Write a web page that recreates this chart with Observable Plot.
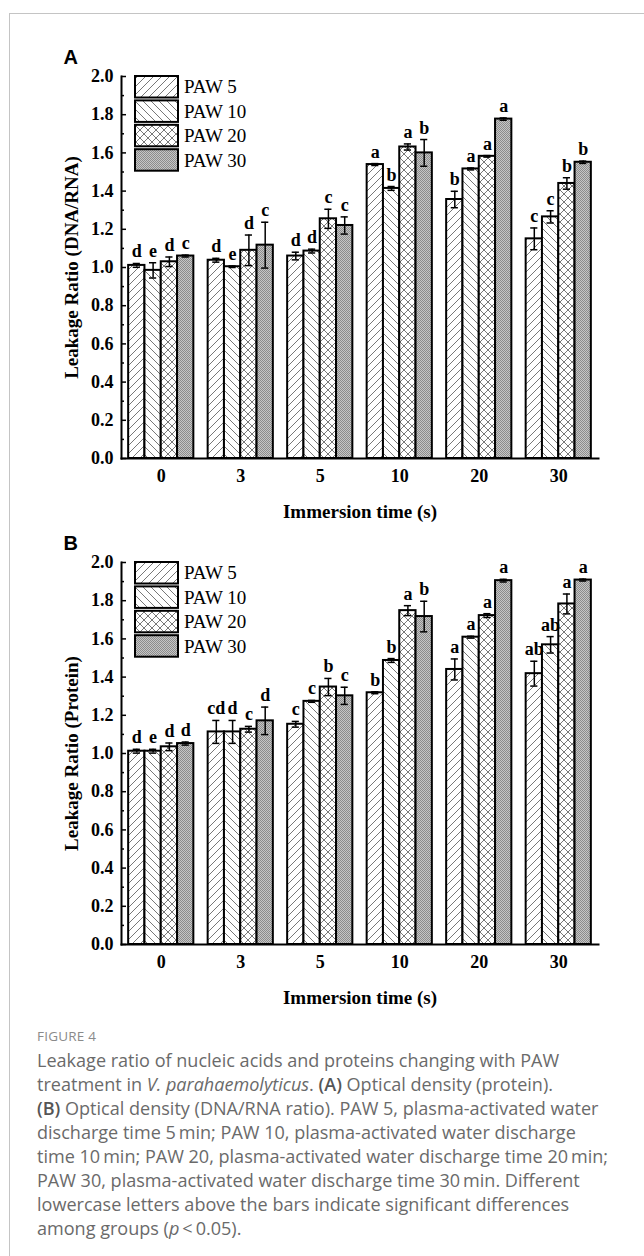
<!DOCTYPE html>
<html>
<head>
<meta charset="utf-8">
<script src="https://cdn.jsdelivr.net/npm/d3@7"></script>
<script src="https://cdn.jsdelivr.net/npm/@observablehq/plot@0.6"></script>
<style>
  html, body { margin: 0; padding: 0; background: #fff; }
  body { width: 644px; height: 1256px; position: relative; overflow: hidden; }
  #card { position: absolute; left: 9px; top: 13px; width: 700px; height: 1300px;
          border-left: 1px solid #c4c4c4; border-top: 1px solid #c4c4c4; }
  .panel { position: absolute; left: 0; }
  #figlabel { position: absolute; left: 37px; top: 1027px; font-family: "Open Sans", sans-serif;
              font-size: 13.5px; color: #8a8a8a; letter-spacing: 0.2px; }
  #caption { position: absolute; left: 37px; top: 1048px; font-family: "Open Sans", sans-serif;
             color: #6a6a6a; white-space: nowrap; line-height: 24px; }
  #caption b { font-weight: 600; color: #555; }
</style>
</head>
<body>
<div id="card"></div>
<svg width="0" height="0" style="position:absolute">
  <defs>
    <pattern id="p0" patternUnits="userSpaceOnUse" width="8" height="8">
      <rect width="8" height="8" fill="#fff"/>
      <path d="M-2,2 L2,-2 M0,8 L8,0 M6,10 L10,6" stroke="#555" stroke-width="0.8"/>
    </pattern>
    <pattern id="p1" patternUnits="userSpaceOnUse" width="8" height="8">
      <rect width="8" height="8" fill="#fff"/>
      <path d="M-2,6 L2,10 M0,0 L8,8 M6,-2 L10,2" stroke="#555" stroke-width="0.8"/>
    </pattern>
    <pattern id="p2" patternUnits="userSpaceOnUse" width="8" height="8">
      <rect width="8" height="8" fill="#fff"/>
      <path d="M-2,2 L2,-2 M0,8 L8,0 M6,10 L10,6 M-2,6 L2,10 M0,0 L8,8 M6,-2 L10,2" stroke="#555" stroke-width="0.8"/>
    </pattern>
    <pattern id="p3" patternUnits="userSpaceOnUse" width="2" height="2">
      <rect width="2" height="2" fill="#c6c6c6"/>
      <rect x="0" y="0" width="1" height="1" fill="#8c8c8c"/>
      <rect x="1" y="1" width="1" height="1" fill="#8c8c8c"/>
    </pattern>
  </defs>
</svg>
<div id="panelA" class="panel" style="top:30px"></div>
<div id="panelB" class="panel" style="top:516px"></div>
<div id="figlabel">FIGURE 4</div>
<div id="caption"></div>
<script>
// ---------- data ----------
const times = ["0", "3", "5", "10", "20", "30"];
const series = ["PAW 5", "PAW 10", "PAW 20", "PAW 30"];
const yTicks = [0, 0.2, 0.4, 0.6, 0.8, 1.0, 1.2, 1.4, 1.6, 1.8, 2.0];

// Panel A: Leakage Ratio (DNA/RNA)
const aPaw5  = [1.011, 1.038, 1.060, 1.539, 1.356, 1.150];
const aPaw10 = [0.985, 1.004, 1.086, 1.414, 1.516, 1.265];
const aPaw20 = [1.030, 1.090, 1.255, 1.631, 1.582, 1.440];
const aPaw30 = [1.060, 1.117, 1.220, 1.600, 1.777, 1.551];
const aErr5  = [0.010, 0.010, 0.020, 0.005, 0.043, 0.057];
const aErr10 = [0.040, 0.004, 0.010, 0.010, 0.005, 0.032];
const aErr20 = [0.025, 0.080, 0.050, 0.016, 0.004, 0.030];
const aErr30 = [0.005, 0.120, 0.045, 0.070, 0.006, 0.006];
const aLet5  = ["d", "d", "d", "a", "b", "c"];
const aLet10 = ["e", "e", "d", "b", "a", "c"];
const aLet20 = ["d", "d", "c", "a", "a", "b"];
const aLet30 = ["c", "c", "c", "b", "a", "b"];

// Panel B: Leakage Ratio (Protein)
const bPaw5  = [1.012, 1.113, 1.153, 1.318, 1.440, 1.418];
const bPaw10 = [1.012, 1.113, 1.273, 1.487, 1.609, 1.569];
const bPaw20 = [1.035, 1.127, 1.348, 1.748, 1.722, 1.783];
const bPaw30 = [1.052, 1.171, 1.302, 1.717, 1.905, 1.908];
const bErr5  = [0.010, 0.060, 0.015, 0.005, 0.055, 0.065];
const bErr10 = [0.010, 0.060, 0.005, 0.010, 0.005, 0.043];
const bErr20 = [0.020, 0.015, 0.045, 0.026, 0.010, 0.052];
const bErr30 = [0.008, 0.072, 0.045, 0.080, 0.007, 0.005];
const bLet5  = ["d", "cd", "c", "b", "a", "ab"];
const bLet10 = ["e", "d", "c", "b", "a", "ab"];
const bLet20 = ["d", "c", "b", "a", "a", "a"];
const bLet30 = ["d", "d", "c", "b", "a", "a"];

// ---------- chart ----------
const W = 644, ML = 121, MR = 46, MT = 46, PH = 382, MB = 70;
const PW = W - ML - MR;
const BW = 0.205;      // bar width in group units
const CAP = 0.045;     // error cap half-width in group units
const SERIF = "Liberation Serif, Times New Roman, serif";
const SANS = "Liberation Sans, Arial, sans-serif";

function rowsFor(means, errs, lets) {
  const rows = [];
  means.forEach((arr, si) => {
    arr.forEach((v, gi) => {
      rows.push({
        s: si, g: gi, v, e: errs[si][gi], l: lets[si][gi],
        x1: gi + (si - 2) * BW, x2: gi + (si - 1) * BW, xc: gi + (si - 1.5) * BW
      });
    });
  });
  return rows;
}

function panel(el, letter, yLabel, means, errs, lets) {
  const rows = rowsFor(means, errs, lets);
  const minor = yTicks.slice(0, -1).map(t => t + 0.1);
  const marks = [
    ...series.map((s, si) => Plot.rectY(rows.filter(d => d.s === si), {
      x1: "x1", x2: "x2", y: "v", fill: `url(#p${si})`, stroke: "black", strokeWidth: 2
    })),
    Plot.ruleX(rows, {x: "xc", y1: d => d.v - d.e, y2: d => d.v + d.e, stroke: "black", strokeWidth: 1.5}),
    Plot.ruleY(rows, {y: d => d.v + d.e, x1: d => d.xc - CAP, x2: d => d.xc + CAP, stroke: "black", strokeWidth: 1.5}),
    Plot.ruleY(rows, {y: d => d.v - d.e, x1: d => d.xc - CAP, x2: d => d.xc + CAP, stroke: "black", strokeWidth: 1.5}),
    Plot.text(rows, {x: "xc", y: d => d.v + d.e, text: "l", dy: -6, lineAnchor: "bottom",
      fontFamily: SERIF, fontWeight: "bold", fontSize: 18, fill: "black"}),
    Plot.ruleY(yTicks, {insetRight: PW - 5, stroke: "black", strokeWidth: 1.5}),
    Plot.ruleY(minor, {insetRight: PW - 3, stroke: "black", strokeWidth: 1.5}),
    Plot.frame({anchor: "left", stroke: "black", strokeWidth: 2}),
    Plot.frame({anchor: "bottom", stroke: "black", strokeWidth: 2}),
    Plot.axisY({ticks: yTicks, tickFormat: d3.format(".1f"), tickSize: 0, tickPadding: 8, label: null,
      fontFamily: SERIF, fontWeight: "bold", fontSize: 18}),
    Plot.axisX({ticks: d3.range(times.length), tickFormat: i => times[i], tickSize: 0, tickPadding: 11, label: null,
      fontFamily: SERIF, fontWeight: "bold", fontSize: 18}),
    Plot.text([yLabel], {text: d => d, frameAnchor: "left", dx: -50, rotate: -90,
      textAnchor: "middle", lineAnchor: "middle",
      fontFamily: SERIF, fontWeight: "bold", fontSize: 19, fill: "black"}),
    Plot.text(["Immersion time (s)"], {text: d => d, frameAnchor: "bottom", dy: 53,
      textAnchor: "middle", lineAnchor: "middle",
      fontFamily: SERIF, fontWeight: "bold", fontSize: 19, fill: "black"}),
    Plot.text([letter], {text: d => d, frameAnchor: "top-left", dx: -58, dy: -19, textAnchor: "start", lineAnchor: "middle",
      fontFamily: SANS, fontWeight: "bold", fontSize: 20, fill: "black"})
  ];
  const chart = Plot.plot({
    width: W, height: MT + PH + MB,
    marginLeft: ML, marginRight: MR, marginTop: MT, marginBottom: MB,
    style: {background: "transparent", color: "black", overflow: "visible"},
    x: {type: "linear", domain: [-0.5, times.length - 0.5], axis: null},
    y: {domain: [0, 2], axis: null},
    marks
  });
  // legend inside the plot area (top-left)
  const svg = d3.select(chart);
  const g = svg.append("g").attr("text-anchor", "start");
  series.forEach((s, si) => {
    const y0 = MT + si * 24.4;
    g.append("rect").attr("x", 135).attr("y", y0).attr("width", 43).attr("height", 21.5)
      .attr("fill", `url(#p${si})`).attr("stroke", "black").attr("stroke-width", 2);
    g.append("text").attr("x", 184).attr("y", y0 + 10.75).attr("dy", "0.35em")
      .attr("text-anchor", "start")
      .attr("font-family", SERIF).attr("font-size", 19).attr("font-weight", "normal")
      .attr("fill", "black").text(s);
  });
  document.getElementById(el).appendChild(chart);
}

panel("panelA", "A", "Leakage Ratio (DNA/RNA)",
  [aPaw5, aPaw10, aPaw20, aPaw30], [aErr5, aErr10, aErr20, aErr30], [aLet5, aLet10, aLet20, aLet30]);
panel("panelB", "B", "Leakage Ratio (Protein)",
  [bPaw5, bPaw10, bPaw20, bPaw30], [bErr5, bErr10, bErr20, bErr30], [bLet5, bLet10, bLet20, bLet30]);

// ---------- caption ----------
const captionLines = [
  "Leakage ratio of nucleic acids and proteins changing with PAW",
  "treatment in <i>V. parahaemolyticus</i>. <b>(A)</b> Optical density (protein).",
  "<b>(B)</b> Optical density (DNA/RNA ratio). PAW 5, plasma-activated water",
  "discharge time 5\u2009min; PAW 10, plasma-activated water discharge",
  "time 10\u2009min; PAW 20, plasma-activated water discharge time 20\u2009min;",
  "PAW 30, plasma-activated water discharge time 30\u2009min. Different",
  "lowercase letters above the bars indicate significant differences",
  "among groups (<i>p</i>\u2009<\u20090.05)."
];
const cap = document.getElementById("caption");
cap.innerHTML = captionLines.join("<br>");
// fit the longest line to ~575px
const ctx = document.createElement("canvas").getContext("2d");
ctx.font = "100px 'Open Sans'";
const w100 = ctx.measureText(captionLines[4].replace(/\u2009/g, " ")).width;
cap.style.fontSize = (100 * 575 / w100).toFixed(2) + "px";
</script>
</body>
</html>
